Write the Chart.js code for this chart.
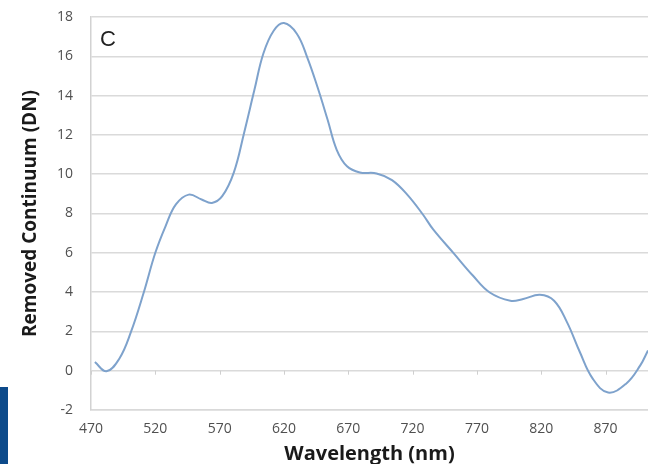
<!DOCTYPE html>
<html>
<head>
<meta charset="utf-8">
<script src="https://cdn.jsdelivr.net/npm/chart.js@4.4.1/dist/chart.umd.min.js"></script>
<style>
  html, body { margin: 0; padding: 0; background: #fff; }
  #wrap { position: relative; width: 648px; height: 464px; }
  #side { position: absolute; left: 0; top: 387px; width: 8px; height: 77px; background: #0d4a8a; }
</style>
</head>
<body>
<div id="wrap">
  <canvas id="spectrum" width="648" height="464"></canvas>
  <div id="side"></div>
</div>
<script>
// continuum-removed spectrum, panel C
const wavelength = [473, 482, 492, 501, 511, 520, 528, 536, 546, 556, 564, 572, 581, 589, 597, 604, 612, 620, 630, 638,
  646, 654, 661, 669, 679, 692, 704, 716, 728, 736, 752, 767, 780, 796, 806, 819, 830, 840, 850, 860, 872, 886, 897, 903];
const removed = [0.44, -0.03, 0.61, 1.96, 3.98, 6.0, 7.36, 8.46, 8.96, 8.71, 8.54, 8.88, 10.08, 12.1, 14.28, 16.14, 17.3, 17.69, 17.15, 15.96,
  14.45, 12.76, 11.24, 10.4, 10.09, 10.04, 9.7, 8.95, 7.95, 7.19, 5.97, 4.83, 3.98, 3.56, 3.65, 3.86, 3.56, 2.47, 0.95, -0.4, -1.11, -0.66, 0.27, 1.03];
const xTicks = [470, 520, 570, 620, 670, 720, 770, 820, 870];
const yTicks = [-2, 0, 2, 4, 6, 8, 10, 12, 14, 16, 18];

const points = wavelength.map((w, i) => ({ x: w, y: removed[i] }));

// panel letter plus the little tick marks sitting on the zero line
const extras = {
  id: "extras",
  afterDraw(chart) {
    const { ctx, chartArea, scales } = chart;
    const y0 = scales.y.getPixelForValue(0);
    ctx.save();
    ctx.strokeStyle = "#cfcfcf";
    ctx.lineWidth = 1;
    xTicks.forEach((t) => {
      const px = Math.round(scales.x.getPixelForValue(t)) + 0.5;
      ctx.beginPath();
      ctx.moveTo(px, y0);
      ctx.lineTo(px, y0 + 4);
      ctx.stroke();
    });
    ctx.fillStyle = "#222";
    ctx.font = "22px 'Liberation Sans', Arial, sans-serif";
    ctx.textBaseline = "alphabetic";
    ctx.fillText("C", chartArea.left + 9, 46);
    ctx.restore();
  },
};

const ctx = document.getElementById("spectrum");
const chart = new Chart(ctx, {
  type: "line",
  data: {
    datasets: [
      {
        label: "Removed Continuum",
        data: points,
        borderColor: "#7ea2cc",
        borderWidth: 2,
        pointRadius: 0,
        fill: false,
        tension: 0.4,
      },
    ],
  },
  options: {
    responsive: false,
    animation: false,
    layout: { padding: { top: 17, right: 0, bottom: 0, left: 0 } },
    plugins: { legend: { display: false }, tooltip: { enabled: false } },
    scales: {
      x: {
        type: "linear",
        min: 470,
        max: 903,
        afterFit: (scale) => { scale.height = 54; },
        afterBuildTicks: (scale) => { scale.ticks = xTicks.map((v) => ({ value: v })); },
        ticks: { padding: 11, color: "#505050", font: { family: "'Open Sans'", size: 14 }, maxRotation: 0 },
        grid: { display: false, drawTicks: false },
        border: { display: true, color: "#d9d9d9", width: 1.5 },
        title: {
          display: true,
          text: "Wavelength (nm)",
          color: "#1a1a1a",
          padding: 0,
          font: { family: "'Open Sans'", size: 20, weight: "bold", lineHeight: 1.0 },
        },
      },
      y: {
        min: -2,
        max: 18,
        afterFit: (scale) => {
          // tick padding would otherwise push the plot top down
          scale.width = 91;
          scale.paddingTop = 0;
          scale.paddingBottom = 0;
        },
        afterBuildTicks: (scale) => { scale.ticks = yTicks.map((v) => ({ value: v })); },
        ticks: { padding: 18, color: "#505050", font: { family: "'Open Sans'", size: 14 } },
        grid: { color: "#dadada", lineWidth: 1.5, drawTicks: false },
        border: { display: true, color: "#d2d2d2", width: 1.5 },
        title: {
          display: true,
          text: "Removed Continuum (DN)",
          color: "#1a1a1a",
          padding: { top: 19, bottom: 0 },
          font: { family: "'Open Sans'", size: 19, weight: "bold", lineHeight: 1.2 },
        },
      },
    },
  },
  plugins: [extras],
});
</script>
</body>
</html>
